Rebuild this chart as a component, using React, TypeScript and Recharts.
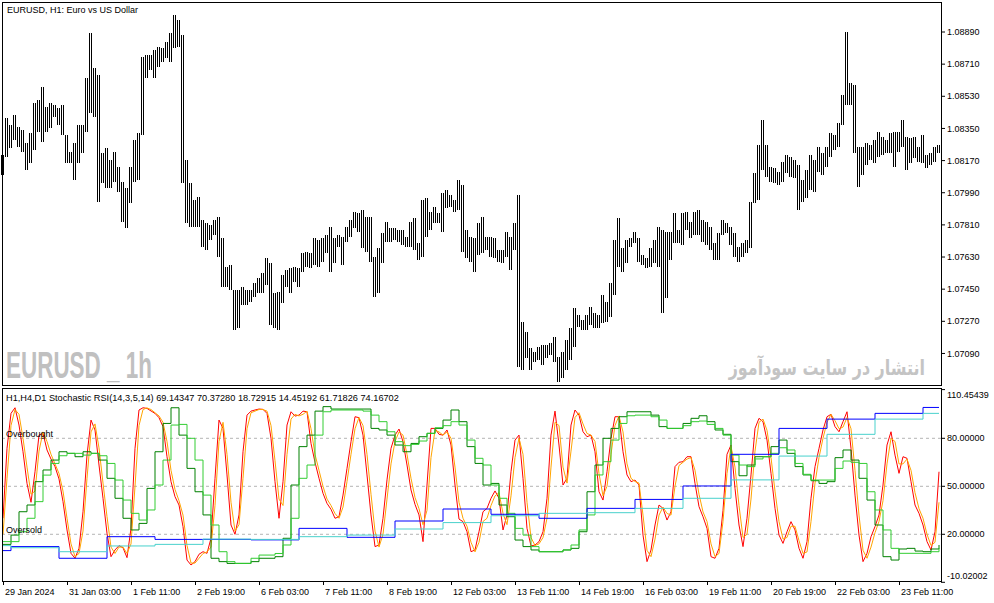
import React from 'react';
import { ComposedChart, Bar, Line, XAxis, YAxis, ReferenceLine } from 'recharts';

// EURUSD H1, one entry per 2-hour slot (29 Jan 19:00 .. 26 Feb 08:00)
const PRICE_HIGH = [
  1.08201, 1.08408, 1.08369, 1.08425, 1.08358, 1.08341, 1.08268, 1.08324, 1.08492, 1.08509,
  1.08582, 1.08470, 1.08492, 1.08481, 1.08464, 1.08481, 1.08313, 1.08218, 1.08268, 1.08369,
  1.08369, 1.08632, 1.08884, 1.08688, 1.08649, 1.08212, 1.08240, 1.08173, 1.08218, 1.08134,
  1.08050, 1.08016, 1.08134, 1.08285, 1.08324, 1.08750, 1.08761, 1.08761, 1.08789, 1.08806,
  1.08800, 1.08834, 1.08884, 1.08985, 1.08957, 1.08873, 1.08173, 1.08044, 1.07949, 1.07966,
  1.07837, 1.07820, 1.07809, 1.07837, 1.07854, 1.07736, 1.07574, 1.07585, 1.07445, 1.07445,
  1.07462, 1.07445, 1.07445, 1.07484, 1.07512, 1.07540, 1.07624, 1.07596, 1.07428, 1.07434,
  1.07529, 1.07557, 1.07568, 1.07574, 1.07568, 1.07652, 1.07658, 1.07652, 1.07736, 1.07725,
  1.07736, 1.07753, 1.07798, 1.07736, 1.07753, 1.07742, 1.07798, 1.07837, 1.07882, 1.07876,
  1.07893, 1.07854, 1.07854, 1.07630, 1.07680, 1.07764, 1.07826, 1.07792, 1.07792, 1.07781,
  1.07781, 1.07742, 1.07826, 1.07848, 1.07708, 1.07949, 1.07960, 1.07882, 1.07910, 1.07876,
  1.07988, 1.08005, 1.07977, 1.07949, 1.08061, 1.08033, 1.07781, 1.07742, 1.07736, 1.07820,
  1.07854, 1.07742, 1.07742, 1.07736, 1.07669, 1.07669, 1.07770, 1.07742, 1.07820, 1.07977,
  1.07266, 1.07210, 1.07120, 1.07098, 1.07126, 1.07137, 1.07137, 1.07148, 1.07182, 1.07070,
  1.07098, 1.07165, 1.07232, 1.07344, 1.07305, 1.07277, 1.07305, 1.07350, 1.07316, 1.07305,
  1.07417, 1.07378, 1.07484, 1.07725, 1.07848, 1.07680, 1.07725, 1.07736, 1.07770, 1.07736,
  1.07641, 1.07624, 1.07680, 1.07725, 1.07798, 1.07781, 1.07770, 1.07770, 1.07876, 1.07781,
  1.07876, 1.07882, 1.07826, 1.07882, 1.07893, 1.07837, 1.07826, 1.07798, 1.07708, 1.07764,
  1.07837, 1.07820, 1.07798, 1.07764, 1.07686, 1.07708, 1.07725, 1.07938, 1.08100, 1.08257,
  1.08397, 1.08257, 1.08134, 1.08128, 1.08106, 1.08162, 1.08201, 1.08190, 1.08173, 1.08145,
  1.08061, 1.08117, 1.08201, 1.08173, 1.08246, 1.08212, 1.08246, 1.08324, 1.08313, 1.08380,
  1.08537, 1.08890, 1.08604, 1.08593, 1.08246, 1.08246, 1.08268, 1.08257, 1.08285, 1.08330,
  1.08302, 1.08285, 1.08324, 1.08330, 1.08330, 1.08397, 1.08302, 1.08296, 1.08302, 1.08246,
  1.08313, 1.08201, 1.08212, 1.08246, 1.08257,
];

const PRICE_LOW = [
  1.08089, 1.08190, 1.08240, 1.08285, 1.08246, 1.08218, 1.08117, 1.08156, 1.08229, 1.08330,
  1.08274, 1.08330, 1.08352, 1.08414, 1.08369, 1.08313, 1.08156, 1.08156, 1.08061, 1.08156,
  1.08212, 1.08330, 1.08436, 1.08414, 1.07938, 1.08044, 1.08016, 1.08016, 1.08050, 1.07994,
  1.07826, 1.07792, 1.07932, 1.08050, 1.08061, 1.08313, 1.08632, 1.08677, 1.08632, 1.08694,
  1.08722, 1.08744, 1.08722, 1.08800, 1.08806, 1.08044, 1.07820, 1.07798, 1.07798, 1.07798,
  1.07686, 1.07669, 1.07725, 1.07753, 1.07630, 1.07462, 1.07462, 1.07445, 1.07221, 1.07232,
  1.07361, 1.07361, 1.07378, 1.07406, 1.07428, 1.07428, 1.07473, 1.07249, 1.07232, 1.07221,
  1.07372, 1.07462, 1.07428, 1.07490, 1.07462, 1.07546, 1.07574, 1.07568, 1.07585, 1.07574,
  1.07602, 1.07652, 1.07546, 1.07596, 1.07686, 1.07585, 1.07714, 1.07742, 1.07792, 1.07770,
  1.07680, 1.07658, 1.07602, 1.07406, 1.07428, 1.07596, 1.07714, 1.07714, 1.07725, 1.07714,
  1.07697, 1.07686, 1.07686, 1.07669, 1.07613, 1.07630, 1.07742, 1.07781, 1.07820, 1.07820,
  1.07770, 1.07904, 1.07910, 1.07882, 1.07893, 1.07658, 1.07624, 1.07602, 1.07546, 1.07641,
  1.07652, 1.07669, 1.07630, 1.07624, 1.07602, 1.07596, 1.07630, 1.07557, 1.07669, 1.07014,
  1.06997, 1.07064, 1.06997, 1.07042, 1.07053, 1.07025, 1.07064, 1.07081, 1.07042, 1.06930,
  1.06952, 1.06997, 1.07053, 1.07126, 1.07238, 1.07221, 1.07221, 1.07249, 1.07232, 1.07232,
  1.07260, 1.07266, 1.07294, 1.07417, 1.07574, 1.07546, 1.07596, 1.07686, 1.07708, 1.07602,
  1.07585, 1.07568, 1.07574, 1.07596, 1.07574, 1.07316, 1.07400, 1.07613, 1.07708, 1.07708,
  1.07697, 1.07781, 1.07736, 1.07753, 1.07753, 1.07714, 1.07697, 1.07669, 1.07613, 1.07613,
  1.07753, 1.07764, 1.07697, 1.07630, 1.07602, 1.07630, 1.07652, 1.07680, 1.07932, 1.07949,
  1.08117, 1.08078, 1.08050, 1.08044, 1.08033, 1.08050, 1.08100, 1.08078, 1.08072, 1.07893,
  1.07938, 1.07960, 1.08005, 1.07994, 1.08106, 1.08089, 1.08134, 1.08190, 1.08229, 1.08246,
  1.08369, 1.08481, 1.08481, 1.08212, 1.08022, 1.08089, 1.08145, 1.08173, 1.08156, 1.08190,
  1.08201, 1.08212, 1.08212, 1.08134, 1.08218, 1.08246, 1.08117, 1.08156, 1.08184, 1.08162,
  1.08156, 1.08128, 1.08145, 1.08162, 1.08212,
];

// Stochastic RSI on H1 (same slots as the price)
const H1_MAIN = [
  30, 73.7, 95.6, 99.1, 88.3, 71.6, 51.8, 40, 59.1, 82,
  83.1, 72.7, 67, 62.3, 54.6, 40.4, 22.7, 8.1, 5, 11.2,
  34.1, 69.5, 91.4, 85.2, 63.3, 42.5, 20.6, 6, 10.2, 12.9,
  11.6, 5.4, 23.7, 73.7, 97.7, 99.1, 98.7, 97.1, 95.6, 92.9,
  87.3, 68.5, 52.9, 43.5, 38.3, 24.8, 3.9, 0.8, 2.9, 7.5,
  9.1, 8.1, 17.5, 55, 91.4, 86.2, 57.1, 25.8, 20, 32.1,
  71.6, 94.5, 97, 97.7, 98.3, 98.1, 95.6, 80, 52.9, 30,
  52.9, 88.3, 96.6, 93.9, 94.5, 97, 96.6, 76.8, 65, 55,
  45.6, 39.3, 35.6, 30, 31, 44.5, 61.2, 77.9, 93.5, 92.9,
  82, 57.1, 32.1, 12.3, 13.3, 30, 54, 73.7, 82, 85.8,
  77.9, 63.3, 47.7, 38.7, 32.1, 15.4, 50.8, 86.2, 86.2, 82.5,
  82, 85.2, 75.8, 50.8, 29.5, 27.9, 21.6, 9.1, 10.2, 21.6,
  34.1, 36.2, 42.5, 47.1, 42.5, 22.7, 32.1, 59.1, 78.9, 82,
  55, 23.7, 12.7, 13.3, 15.4, 21.6, 42.5, 82, 97, 75.8,
  50.8, 55, 88.3, 97.7, 94.5, 84.1, 81, 82, 71.6, 46.6,
  41.4, 59.1, 80, 93.5, 93.5, 71.6, 57.1, 52.9, 53.9, 50.8,
  19.5, 2.9, 10.2, 25.8, 38.3, 36.2, 28.9, 34.1, 62.3, 65,
  65.4, 68.5, 68.5, 51.8, 37.3, 31, 23.7, 6, 5, 11.2,
  35, 70, 75.8, 48.7, 25.8, 12.3, 30, 57.1, 86.2, 92.5,
  90.4, 78.9, 58.1, 36.2, 19.5, 14.3, 21.6, 27.9, 22.7, 11.2,
  5, 15.4, 42.5, 62.3, 73.7, 85.2, 93.5, 95, 87.3, 84.1,
  90.4, 96.6, 73.7, 44.5, 19.5, 2.9, 8.1, 18.5, 24.8, 32.1,
  50.8, 75.8, 84.1, 69.5, 58.1, 68.5, 67.5, 52.9, 38.3, 33.1,
  25.8, 15.4, 10.2, 21.6, 59.1,
];

const H1_SIGNAL = [
  20, 55, 88, 98, 95, 80, 62, 45, 47, 72,
  84, 78, 70, 64, 58, 47, 30, 14, 6, 8,
  22, 55, 84, 89, 74, 52, 31, 12, 8, 12,
  12, 8, 14, 50, 88, 98, 99, 98, 96, 94,
  90, 78, 60, 48, 41, 32, 13, 2, 2, 5,
  8, 9, 12, 38, 78, 90, 70, 40, 22, 26,
  55, 86, 96, 97, 98, 98, 97, 88, 66, 42,
  38, 70, 92, 95, 94, 95, 97, 86, 70, 60,
  50, 42, 38, 33, 30, 37, 53, 70, 86, 93,
  88, 70, 45, 22, 12, 20, 42, 64, 78, 84,
  82, 70, 55, 43, 36, 26, 35, 68, 85, 84,
  82, 84, 80, 62, 40, 30, 25, 15, 9, 15,
  28, 30, 38, 44, 46, 33, 26, 44, 68, 80,
  70, 40, 18, 13, 14, 18, 30, 62, 90, 88,
  62, 52, 72, 93, 96, 89, 83, 82, 78, 58,
  44, 50, 70, 88, 94, 84, 64, 55, 53, 52,
  32, 10, 6, 17, 32, 37, 33, 32, 50, 63,
  65, 67, 68, 60, 45, 34, 28, 14, 6, 8,
  28, 58, 75, 62, 38, 18, 20, 42, 72, 90,
  92, 85, 68, 47, 28, 17, 18, 25, 25, 16,
  8, 9, 28, 52, 68, 80, 90, 95, 91, 86,
  87, 93, 86, 60, 32, 10, 5, 12, 21, 28,
  41, 64, 80, 78, 64, 64, 67, 60, 46, 36,
  30, 20, 13, 15, 40,
];

// Stochastic RSI on H4, one value per H4 bar
const H4_MAIN = [
  13.7, 19.5, 34.1, 38.3, 52.9, 60.2, 66.4, 71.6, 70.6, 68.5,
  71.6, 70.6, 66.4, 55, 42.5, 30, 22.7, 26.8, 48.7, 71.6,
  89.3, 99.1, 82, 61.2, 46.6, 32.1, 5, 2.9, 1.8, 1.8,
  1.8, 2.9, 5, 5, 6, 17.5, 50.8, 74.8, 82, 97,
  99.8, 98.3, 98.3, 98.3, 98.3, 98.3, 86.2, 85.2, 82, 75.8,
  71.6, 76.8, 81, 83.1, 86.2, 91.4, 97.7, 90.4, 74.8, 64.3,
  50.8, 51.8, 38.3, 31, 16.4, 12.3, 10.2, 9.1, 9.1, 9.1,
  10.2, 11.2, 21.6, 46.6, 63.3, 80, 86.2, 93.5, 96.6, 96.6,
  96.6, 94.5, 87.3, 86.2, 86.2, 89.3, 92.5, 94.1, 90.4, 85.2,
  82.5, 65.4, 56.6, 63.3, 68.5, 68.5, 74.8, 78.9, 70.6, 62.3,
  57.1, 53.5, 51.8, 52.9, 67.9, 72.7, 66.4, 55, 41.4, 25.8,
  6, 3.9, 10.8, 11.2, 9.5, 9.1, 10.8, 13.3,
];

const H4_SIGNAL = [
  15.4, 15.4, 21.6, 30, 40.4, 57, 64.3, 69.1, 70.6, 70.6,
  69.5, 70.6, 69.1, 64.3, 53.9, 41.4, 33.1, 28.9, 35.2, 50.8,
  66.4, 88.3, 88.7, 80, 66.4, 44.5, 25.8, 9.1, 2.9, 1.8,
  1.8, 5, 7, 7, 8, 13.3, 30, 55, 63.3, 82,
  96.6, 97.7, 97.7, 97.7, 97.7, 97, 94.5, 90.4, 84.1, 77.9,
  75.4, 76.2, 78.3, 83.1, 86.6, 87.9, 90.4, 88.3, 78.9, 67.5,
  63.3, 50.8, 42.5, 33.1, 23.7, 19.5, 12.3, 9.1, 9.1, 9.1,
  10.2, 13.3, 22.7, 32.1, 57.1, 65.4, 78.9, 89.3, 94.1, 94.5,
  94.5, 93.5, 91.4, 86.2, 86.2, 87.9, 90.4, 90.8, 88.7, 86.2,
  82, 69.5, 63.3, 62.3, 67.1, 68.5, 70.6, 74.1, 72.7, 64.3,
  57.5, 53.9, 53.9, 53.9, 61.2, 65.8, 65, 64.3, 46.6, 35.2,
  22.7, 11.2, 8.1, 8.1, 8.1, 8.1, 9.1, 11.2,
];

// Stochastic RSI on D1, one value per trading day (29 Jan .. 26 Feb)
const D1_MAIN = [9.8, 12.3, 5, 18.5, 16.8, 16.8, 16.5, 23.7, 18.1, 28.3, 35.8, 32.5, 30, 36.2, 41.8, 50.2, 70, 86.2, 92, 95.6, 99.3];
const D1_SIGNAL = [12.9, 11.6, 9.1, 12.7, 13.7, 17, 16.8, 18.5, 19.5, 23.3, 27.3, 31.6, 33.1, 33.5, 36.2, 42.5, 54, 68.9, 82.5, 92, 95.6];

const DATE_LABELS = [
  '29 Jan 2024', '31 Jan 03:00', '1 Feb 11:00', '2 Feb 19:00', '6 Feb 03:00',
  '7 Feb 11:00', '8 Feb 19:00', '12 Feb 03:00', '13 Feb 11:00', '14 Feb 19:00',
  '16 Feb 03:00', '19 Feb 11:00', '20 Feb 19:00', '22 Feb 03:00', '23 Feb 11:00',
];

const PRICE_TICKS = [1.0709, 1.0727, 1.0745, 1.0763, 1.0781, 1.0799, 1.0817, 1.0835, 1.0853, 1.0871, 1.0889];
const STOCH_TICKS = [-10.02002, 20, 50, 80, 110.45439];
const LEVELS = [80, 50, 20];

const FONT = '"Liberation Sans", Arial, sans-serif';

// labels every 32 hours = every 16 slots
const DATE_TICKS = DATE_LABELS.map((_, k) => k * 16);

// first day is partial (2 slots), then 12 slots a day
const dayOf = (i: number) => (i < 2 ? 0 : 1 + Math.floor((i - 2) / 12));

const rows = PRICE_HIGH.map((hi, i) => ({
  i,
  range: [PRICE_LOW[i], hi],
  h1m: H1_MAIN[i],
  h1s: H1_SIGNAL[i],
  h4m: H4_MAIN[Math.floor(i / 2)],
  h4s: H4_SIGNAL[Math.floor(i / 2)],
  d1m: D1_MAIN[dayOf(i)],
  d1s: D1_SIGNAL[dayOf(i)],
}));

// each slot holds two hourly bars, drawn as two 1px sticks like MT5's bar view
const PriceStick = (props: any) => {
  const { x, y, width, height } = props;
  if (x == null || y == null) return null;
  const cx = Math.round(x + width / 2);
  const top = Math.min(y, y + height);
  const bottom = top + Math.max(Math.abs(height), 1);
  return (
    <g stroke="#000" strokeWidth={1} shapeRendering="crispEdges">
      <line x1={cx - 1.5} x2={cx - 1.5} y1={top} y2={bottom} />
      <line x1={cx + 0.5} x2={cx + 0.5} y1={top} y2={bottom} />
    </g>
  );
};

const PriceTick = ({ x, y, payload }: any) => (
  <text x={x} y={y} dy="0.35em" fontSize={9} fontFamily={FONT} fill="#000">
    {Number(payload.value).toFixed(5)}
  </text>
);

const StochTick = ({ x, y, payload }: any) => (
  <text x={x} y={Math.min(Math.max(y, 395), 576)} dy="0.35em" fontSize={9} fontFamily={FONT} fill="#000">
    {Number(payload.value).toFixed(5)}
  </text>
);

const DateTick = ({ x, y, payload }: any) => (
  <g>
    <line x1={x} x2={x} y1={y - 1.5} y2={y + 3} stroke="#000" shapeRendering="crispEdges" />
    <text x={x + 2} y={y + 12.5} fontSize={9} fontFamily={FONT} fill="#000">
      {DATE_LABELS[payload.value / 16]}
    </text>
  </g>
);

const lineProps = { dot: false, activeDot: false, isAnimationActive: false, strokeWidth: 1 } as const;

export default function App() {
  return (
    <div style={{ position: 'fixed', left: 0, top: 0, width: 994, height: 603, background: '#fff', overflow: 'hidden' }}>
      <div style={{ position: 'absolute', left: 0, top: 0 }}>
        <ComposedChart width={994} height={386} data={rows} margin={{ top: 2, right: 3, bottom: 2, left: 1 }}>
          <XAxis dataKey="i" hide />
          <YAxis
            orientation="right"
            width={50}
            type="number"
            domain={[1.06919, 1.09058]}
            ticks={PRICE_TICKS}
            allowDataOverflow
            axisLine={false}
            tickSize={4}
            tickMargin={2}
            tickLine={{ stroke: '#000' }}
            tick={<PriceTick />}
          />
          <Bar dataKey="range" shape={<PriceStick />} isAnimationActive={false} />
        </ComposedChart>
      </div>

      <div style={{ position: 'absolute', left: 0, top: 0 }}>
        <ComposedChart width={994} height={603} data={rows} margin={{ top: 389.6, right: 3, bottom: 0, left: 1 }}>
          <XAxis
            dataKey="i"
            scale="band"
            height={20.7}
            ticks={DATE_TICKS}
            interval={0}
            axisLine={false}
            tickLine={false}
            tickSize={0}
            tickMargin={0}
            tick={<DateTick />}
          />
          <YAxis
            orientation="right"
            width={50}
            type="number"
            domain={[-10.02002, 110.45439]}
            ticks={STOCH_TICKS}
            allowDataOverflow
            axisLine={false}
            tickSize={4}
            tickMargin={2}
            tickLine={{ stroke: '#000' }}
            tick={<StochTick />}
          />
          {LEVELS.map((lv) => (
            <ReferenceLine key={lv} y={lv} stroke="#b4b4b4" strokeDasharray="3 3" />
          ))}
          <Line dataKey="h1m" stroke="#ff0000" type="linear" {...lineProps} />
          <Line dataKey="h1s" stroke="#ffa500" type="linear" {...lineProps} />
          <Line dataKey="h4m" stroke="#008000" type="stepAfter" {...lineProps} />
          <Line dataKey="h4s" stroke="#32cd32" type="stepAfter" {...lineProps} />
          <Line dataKey="d1m" stroke="#0000ff" type="stepAfter" {...lineProps} />
          <Line dataKey="d1s" stroke="#48d1cc" type="stepAfter" {...lineProps} />
        </ComposedChart>
      </div>

      <svg width={994} height={603} style={{ position: 'absolute', left: 0, top: 0, pointerEvents: 'none' }}>
        <rect x={2.5} y={2.5} width={939} height={383} fill="none" stroke="#000" />
        <rect x={2.5} y={388.5} width={939} height={193} fill="none" stroke="#000" />
        <text x={7} y={13} fontSize={9} fontFamily={FONT} fill="#000">EURUSD, H1:  Euro vs US Dollar</text>
        <text x={6} y={401} fontSize={9.2} fontFamily={FONT} fill="#000">
          H1,H4,D1 Stochastic RSI(14,3,5,14) 69.14347 70.37280 18.72915 14.45192 61.71826 74.16702
        </text>
        <text x={6} y={437} fontSize={9} fontFamily={FONT} fill="#000">Overbought</text>
        <text x={6} y={532.5} fontSize={9} fontFamily={FONT} fill="#000">Oversold</text>
        {/* watermarks, squeezed horizontally to the reference's narrow lettering */}
        <text
          transform="translate(6,378) scale(0.607,1)"
          fontSize={37}
          fontWeight="bold"
          fontFamily='"Liberation Sans", Arial, sans-serif'
          fill="#c0c0c0"
        >
          EURUSD _ 1h
        </text>
        <text
          transform="translate(925,375) scale(0.76,1)"
          textAnchor="end"
          fontSize={21}
          fontWeight="bold"
          fontFamily='"DejaVu Sans", sans-serif'
          fill="#c4c4c4"
        >
          انتشار در سایت سودآموز
        </text>
      </svg>
    </div>
  );
}
